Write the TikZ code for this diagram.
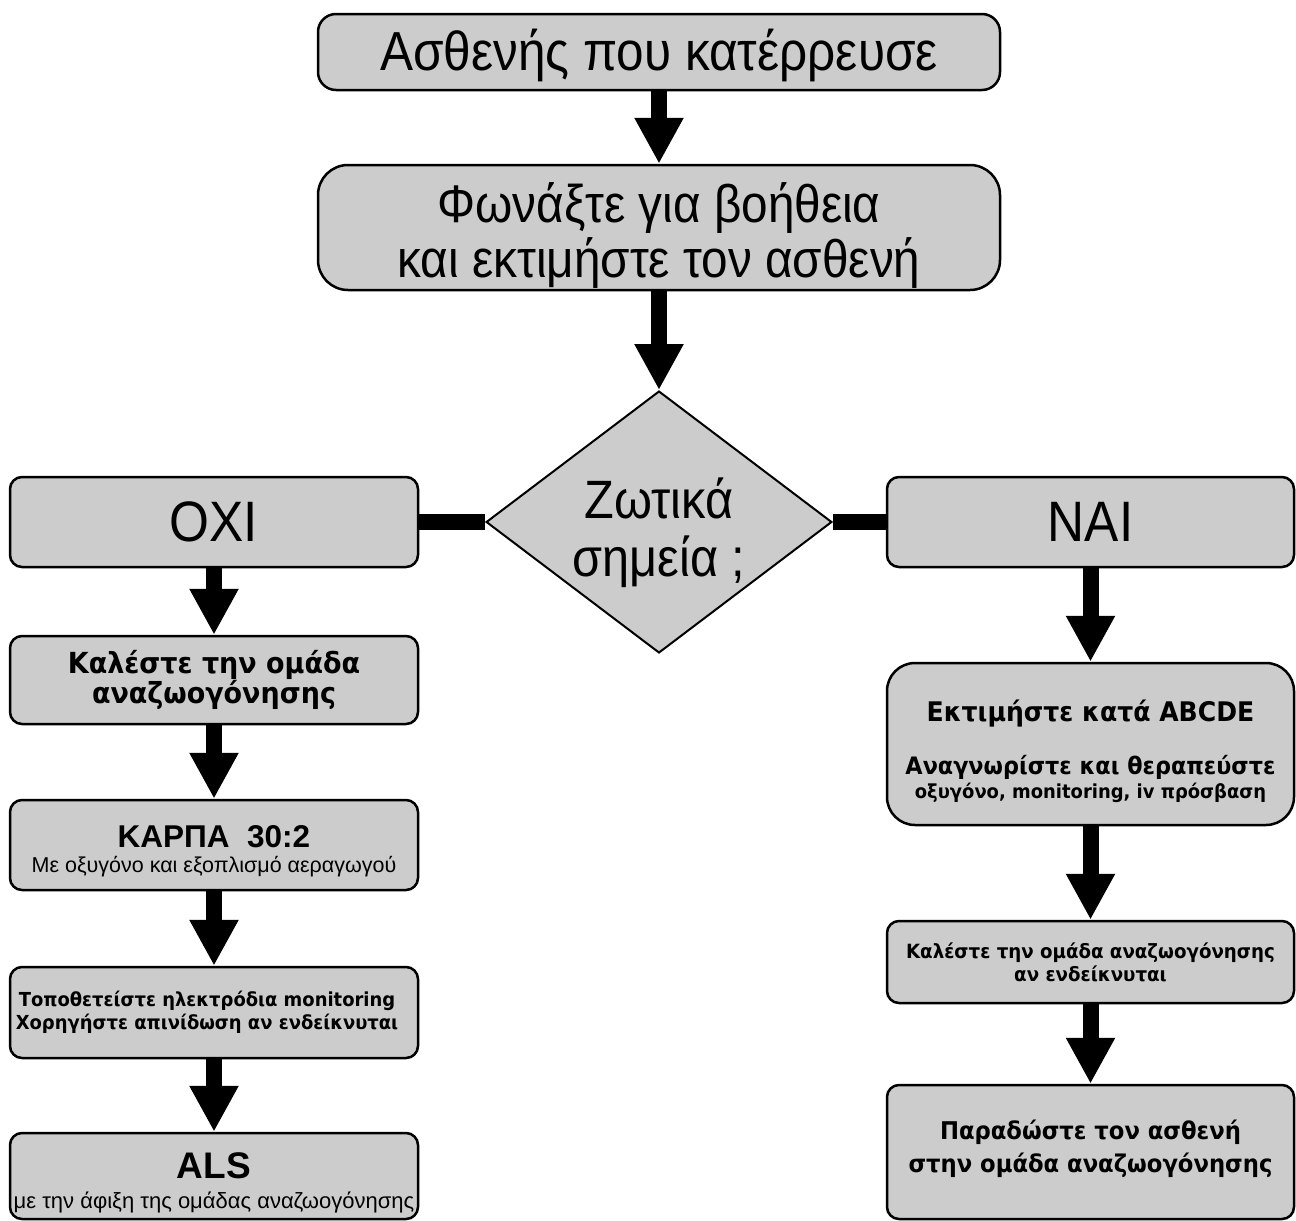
\documentclass[tikz,border=0pt]{standalone}
\usepackage{fontspec}
\setmainfont{Liberation Sans}
\newfontfamily\bigf[FakeStretch=0.9]{Liberation Sans}
\newfontfamily\dvs[FakeStretch=0.93,BoldFont={DejaVu Sans Bold},BoldFeatures={FakeStretch=0.93}]{DejaVu Sans}
\usetikzlibrary{shapes.geometric,arrows.meta}
\definecolor{boxgray}{RGB}{204,204,204}
\begin{document}
\begin{tikzpicture}[x=1pt,y=-1pt,
  box/.style={draw=black,line width=2.5pt,fill=boxgray,align=center,inner sep=0pt,rounded corners=#1},
  box/.default=12pt,
  bigarrow/.style={line width=16pt,-{Triangle[width=46pt,length=46pt]}},
  bar/.style={line width=16pt},
  bigtext/.style={font=\bigf\fontsize{#1}{55}\selectfont},
  boldv/.style 2 args={font=\dvs\bfseries\fontsize{#1}{#2}\selectfont},
]
\useasboundingbox (0,0) rectangle (1296,1221);

% top column
\node[box=18pt,bigtext=55,minimum width=682pt,minimum height=76pt] (b1) at (659,52) {\rule{0pt}{48pt}Ασθενής που κατέρρευσε};
\node[box=30pt,bigtext=53,minimum width=682pt,minimum height=125pt] (b2) at (659,227.5) {\rule{0pt}{56pt}Φωνάξτε για βοήθεια\\και εκτιμήστε τον ασθενή};
\node[draw=black,line width=2pt,fill=boxgray,diamond,aspect=1.32,minimum width=344pt,minimum height=260pt,inner sep=0pt,align=center,font=\bigf\fontsize{54}{58}\selectfont] (dia) at (659,522) {\rule{0pt}{62pt}Ζωτικά\\σημεία ;};

% branches
\node[box,bigtext=57,minimum width=408pt,minimum height=90pt] (oxi) at (214,522) {ΟΧΙ};
\node[box,bigtext=57,minimum width=407pt,minimum height=90pt] (nai) at (1090.5,522) {ΝΑΙ};

% left column
\node[box,boldv={29}{29},minimum width=408pt,minimum height=88pt] (kal) at (214,680) {Καλέστε την ομάδα\\αναζωογόνησης};
\node[box,minimum width=408pt,minimum height=90pt] (karpa) at (214,845)
  {{\bfseries\fontsize{31.5}{34}\selectfont\rule{0pt}{34pt}ΚΑΡΠΑ\ \ 30:2}\\[7pt]{\fontsize{21.5}{25}\selectfont Με οξυγόνο και εξοπλισμό αεραγωγού}};
\node[box,boldv={19.3}{22.5},minimum width=408pt,minimum height=91pt] (topo) at (214,1012.5)
  {\hspace*{-14pt}Τοποθετείστε ηλεκτρόδια monitoring\\\hspace*{-14pt}Χορηγήστε απινίδωση αν ενδείκνυται};
\node[box,minimum width=408pt,minimum height=86pt] (als) at (214,1176)
  {{\bfseries\fontsize{37}{38}\selectfont\rule{0pt}{40pt}ALS}\\[12pt]{\fontsize{22}{24}\selectfont με την άφιξη της ομάδας αναζωογόνησης}};

% right column
\node[box=28pt,minimum width=407pt,minimum height=162pt,font=\dvs\bfseries] (abc) at (1090.5,744)
  {{\fontsize{27}{30}\selectfont\rule{0pt}{36pt}Εκτιμήστε κατά ABCDE}\\[27pt]{\fontsize{24}{26}\selectfont Αναγνωρίστε και θεραπεύστε}\\[3pt]{\fontsize{19.3}{22}\selectfont οξυγόνο, monitoring, iv πρόσβαση}};
\node[box,boldv={19.6}{23},minimum width=407pt,minimum height=82pt] (kal2) at (1090.5,962)
  {Καλέστε την ομάδα αναζωογόνησης\\αν ενδείκνυται};
\node[box,boldv={24.4}{33},minimum width=407pt,minimum height=134pt] (para) at (1090.5,1152)
  {Παραδώστε τον ασθενή\\στην ομάδα αναζωογόνησης\rule[-12pt]{0pt}{0pt}};

% connectors
\draw[bigarrow] (b1) -- (b2);
\draw[bigarrow] (b2) -- (dia);
\draw[bar] (dia.west) -- (oxi.east);
\draw[bar] (dia.east) -- (nai.west);
\draw[bigarrow] (oxi) -- (kal);
\draw[bigarrow] (kal) -- (karpa);
\draw[bigarrow] (karpa) -- (topo);
\draw[bigarrow] (topo) -- (als);
\draw[bigarrow] (nai) -- (abc);
\draw[bigarrow] (abc) -- (kal2);
\draw[bigarrow] (kal2) -- (para);
\end{tikzpicture}
\end{document}
